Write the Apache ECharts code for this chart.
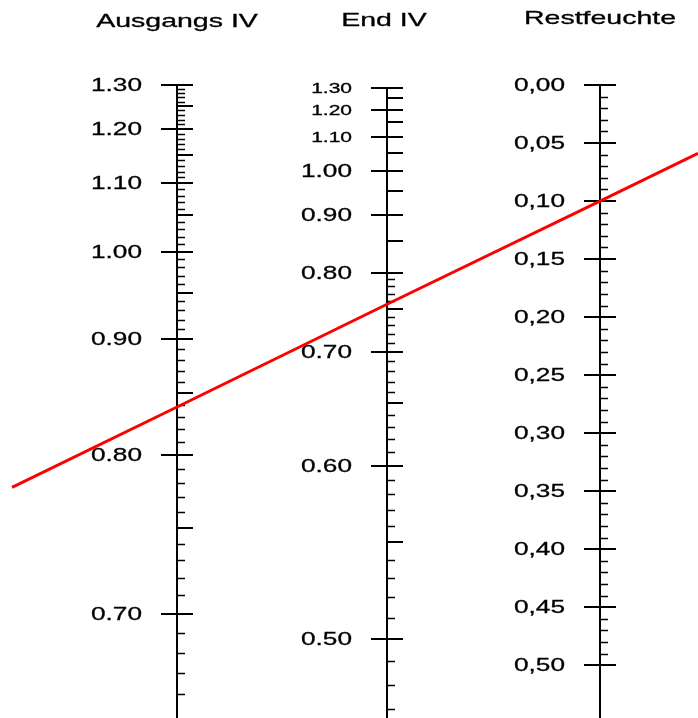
<!DOCTYPE html>
<html>
<head>
<meta charset="utf-8">
<script src="https://cdn.jsdelivr.net/npm/echarts@6/dist/echarts.min.js"></script>
<style>
  html, body { margin: 0; padding: 0; background: #fff; }
  #chart { width: 698px; height: 718px; }
</style>
</head>
<body>
<div id="chart"></div>
<script>
// Nomogram: Ausgangs IV / End IV / Restfeuchte

const axisTitles = ['Ausgangs IV', 'End IV', 'Restfeuchte']

// labelled ticks, half-step ticks, and minor tick ranges (in hundredths)
const ausgangsLabels = [1.30, 1.20, 1.10, 1.00, 0.90, 0.80, 0.70]
const ausgangsMid = [1.25, 1.15, 1.05, 0.95, 0.85, 0.75]
const ausgangsMinorRange = [66, 129]

const endLabels = [1.30, 1.20, 1.10, 1.00, 0.90, 0.80, 0.70, 0.60, 0.50]
const endMid = [1.25, 1.15, 1.05, 0.95, 0.85, 0.75, 0.65, 0.55]
const endMinorRange = [47, 79]

const restLabels = [0.00, 0.05, 0.10, 0.15, 0.20, 0.25, 0.30, 0.35, 0.40, 0.45, 0.50]
const restMid = []
const restMinorRange = [1, 49]

// axis extents (top value, value past the bottom edge)
const ausgangsRange = [1.30, 0.64]
const endRange = [1.30, 0.46]
const restRange = [0.00, 0.56]

// the red reading line
const readAusgangs = 0.838
const readEnd = 0.756
const readRest = 0.10

// ---- layout ----
const AXIS_X = [177, 387, 600]
const LINE_X_EXTENT = [12, 698]
const TITLE_Y = [22, 21, 19]
const TITLE_DX = [0, -3, 0]

// scale functions: value -> nomogram height (0 at the 1.30 / 0,00 mark)
const u = (v) => Math.pow(v, -1.5)
const scales = [
  (v) => 512 * (u(v) - u(1.3)),
  (v) => 2.5 + 256 * (u(v) - u(1.3)),
  (v) => 1160.6 * v,
]

const axes = [
  { labels: ausgangsLabels, mid: ausgangsMid, minor: ausgangsMinorRange, range: ausgangsRange },
  { labels: endLabels, mid: endMid, minor: endMinorRange, range: endRange },
  { labels: restLabels, mid: restMid, minor: restMinorRange, range: restRange },
]

const tickData = []
axes.forEach((ax, i) => {
  const taken = new Set()
  ax.labels.forEach((v) => {
    taken.add(Math.round(v * 100))
    tickData.push([AXIS_X[i], scales[i](v), 0, i, v])
  })
  ax.mid.forEach((v) => {
    taken.add(Math.round(v * 100))
    tickData.push([AXIS_X[i], scales[i](v), 1, i, v])
  })
  for (let h = ax.minor[0]; h <= ax.minor[1]; h++) {
    if (taken.has(h)) continue
    const v = h / 100
    tickData.push([AXIS_X[i], scales[i](v), 2, i, v])
  }
})

const titleData = axisTitles.map((t, i) => [AXIS_X[i], 0, i])

const axisLines = axes.map((ax, i) => ({
  type: 'line',
  data: ax.range.map((v) => [AXIS_X[i], scales[i](v)]),
  symbol: 'none',
  lineStyle: { color: '#000', width: 2 },
  silent: true,
  z: 2,
}))

// red line through the readings, extended to both ends
const pA = [AXIS_X[0], scales[0](readAusgangs)]
const pE = [AXIS_X[1], scales[1](readEnd)]
const pR = [AXIS_X[2], scales[2](readRest)]
const slope = (pR[1] - pA[1]) / (pR[0] - pA[0])
const readLine = [
  [LINE_X_EXTENT[0], pA[1] + slope * (LINE_X_EXTENT[0] - pA[0])],
  pA, pE, pR,
  [LINE_X_EXTENT[1], pR[1] + slope * (LINE_X_EXTENT[1] - pR[0])],
]

const FONT = '"Liberation Sans", Arial, sans-serif'

function renderTick(params, api) {
  const p = api.coord([api.value(0), api.value(1)])
  const kind = api.value(2)
  const axis = api.value(3)
  const v = api.value(4)
  const x = Math.round(p[0])
  const y = Math.round(p[1])
  const children = []
  if (kind === 0) {
    children.push({
      type: 'line',
      shape: { x1: x - 16, y1: y, x2: x + 16, y2: y },
      style: { stroke: '#000', lineWidth: 2 },
    })
    const small = axis === 1 && v > 1.05
    let txt = v.toFixed(2)
    if (axis === 2) txt = txt.replace('.', ',')
    children.push({
      type: 'text',
      x: x - 35,
      y: y + 1,
      scaleX: small ? 1.5 : 1.38,
      style: {
        text: txt,
        font: (small ? 14 : 19) + 'px ' + FONT,
        fill: '#000',
        stroke: '#000',
        lineWidth: 0.3,
        align: 'right',
        verticalAlign: 'middle',
      },
    })
  } else if (kind === 1) {
    children.push({
      type: 'line',
      shape: { x1: x, y1: y, x2: x + 16, y2: y },
      style: { stroke: '#000', lineWidth: 2 },
    })
  } else {
    children.push({
      type: 'line',
      shape: { x1: x, y1: y + 0.5, x2: x + 8, y2: y + 0.5 },
      style: { stroke: '#000', lineWidth: 1.5 },
    })
  }
  return { type: 'group', children }
}

function renderTitle(params, api) {
  const p = api.coord([api.value(0), api.value(1)])
  const i = api.value(2)
  return {
    type: 'text',
    x: p[0] + TITLE_DX[i],
    y: TITLE_Y[i],
    scaleX: 1.5,
    style: {
      text: axisTitles[i],
      font: '19px ' + FONT,
      fill: '#000',
      stroke: '#000',
      lineWidth: 0.3,
      align: 'center',
      verticalAlign: 'middle',
    },
  }
}

const chart = echarts.init(document.getElementById('chart'), null, { renderer: 'canvas' })
chart.setOption({
  backgroundColor: '#fff',
  animation: false,
  grid: { left: 0, right: 0, top: 0, bottom: 0 },
  xAxis: { type: 'value', min: 0, max: 698, show: false },
  yAxis: { type: 'value', min: -85, max: 633, inverse: true, show: false },
  series: [
    ...axisLines,
    { type: 'custom', data: tickData, renderItem: renderTick, silent: true, z: 3 },
    { type: 'custom', data: titleData, renderItem: renderTitle, silent: true, clip: false, z: 3 },
    {
      type: 'line',
      data: readLine,
      symbol: 'none',
      clip: false,
      lineStyle: { color: '#ff0000', width: 3 },
      silent: true,
      z: 5,
    },
  ],
})
</script>
</body>
</html>
